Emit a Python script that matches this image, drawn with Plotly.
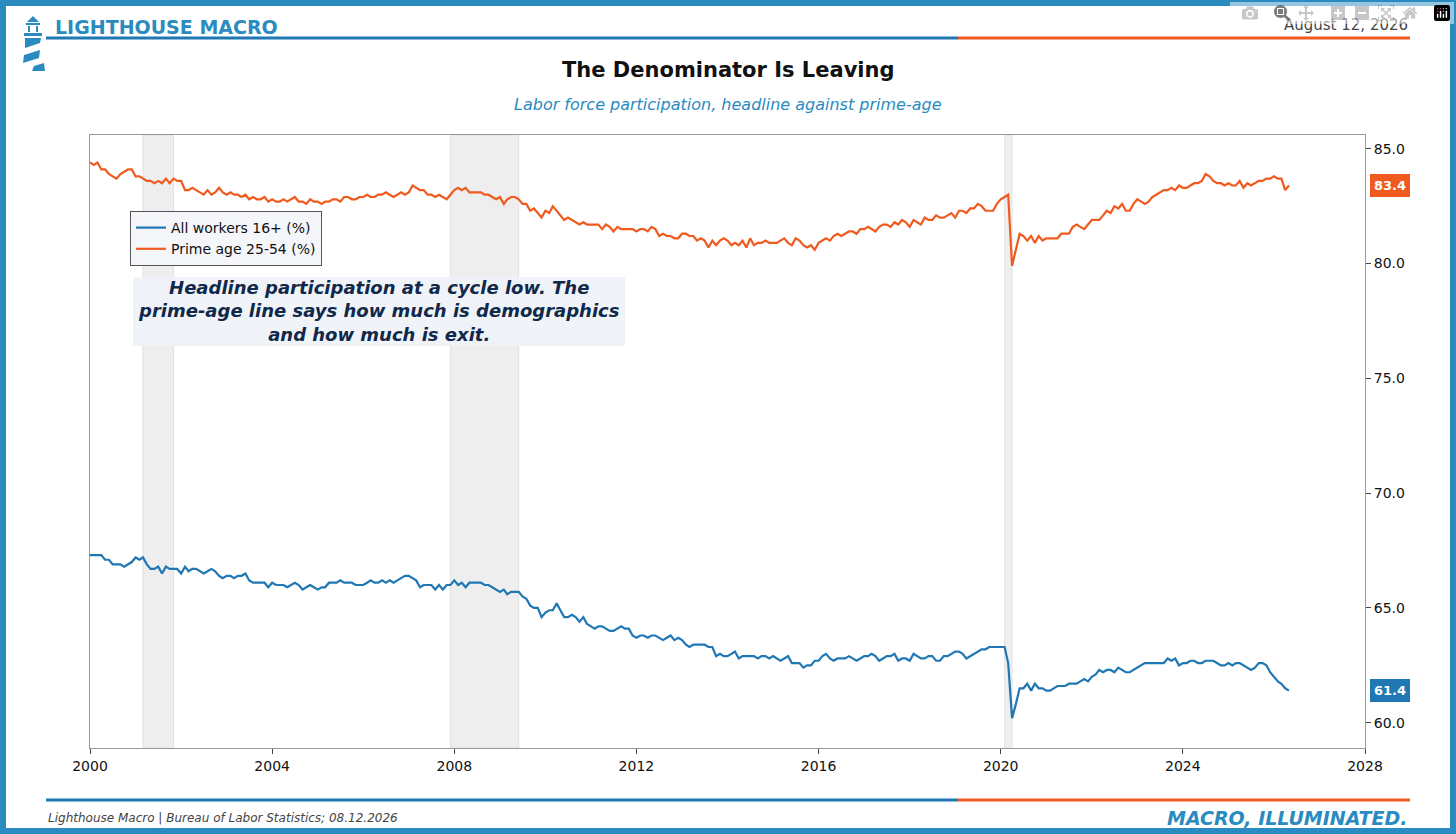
import plotly.graph_objects as go
import pandas as pd

prime = [
84.4,84.3,84.4,84.1,84.1,83.9,83.8,83.7,83.9,84.0,84.1,84.1,
83.8,83.8,83.7,83.6,83.6,83.5,83.6,83.5,83.7,83.5,83.7,83.6,
83.6,83.2,83.2,83.3,83.2,83.1,83.0,83.2,83.0,83.1,83.3,83.1,
83.0,83.1,83.0,83.0,82.9,83.0,82.8,82.9,82.8,82.8,82.9,82.7,
82.8,82.7,82.7,82.8,82.7,82.8,82.9,82.7,82.7,82.6,82.8,82.7,
82.7,82.6,82.7,82.7,82.8,82.8,82.7,82.9,82.9,82.8,82.8,82.9,
82.9,83.0,82.9,82.9,83.0,83.0,83.1,83.0,82.9,83.0,83.1,83.0,
83.1,83.4,83.3,83.2,83.2,83.0,83.0,82.9,83.0,82.9,82.8,83.0,
83.2,83.3,83.2,83.3,83.1,83.1,83.1,83.1,83.0,83.0,82.9,82.8,
82.9,82.6,82.8,82.9,82.9,82.8,82.6,82.6,82.3,82.4,82.2,82.0,
82.3,82.2,82.5,82.3,82.1,81.9,82.0,81.9,81.8,81.7,81.8,81.7,
81.7,81.7,81.7,81.5,81.7,81.6,81.4,81.6,81.5,81.5,81.5,81.5,
81.4,81.5,81.5,81.4,81.6,81.5,81.2,81.3,81.2,81.2,81.1,81.1,
81.3,81.3,81.2,81.2,81.0,81.1,81.0,80.7,81.0,80.8,81.0,81.1,
81.0,80.8,80.9,80.8,81.0,80.7,81.1,80.8,80.9,80.9,81.0,80.9,
80.9,80.9,81.0,81.1,80.9,80.8,81.1,81.0,80.8,80.7,80.8,80.6,
80.9,81.0,81.1,81.0,81.2,81.3,81.2,81.3,81.4,81.4,81.3,81.5,
81.5,81.6,81.5,81.4,81.6,81.7,81.7,81.6,81.8,81.7,81.9,81.8,
81.6,81.9,81.8,81.7,82.0,81.9,81.9,82.1,82.0,82.0,82.1,82.2,
82.0,82.3,82.3,82.2,82.4,82.4,82.6,82.5,82.3,82.3,82.3,82.6,
82.8,82.9,83.0,79.9,80.6,81.3,81.2,81.0,81.2,80.9,81.2,81.0,
81.1,81.1,81.1,81.1,81.3,81.3,81.3,81.6,81.7,81.6,81.5,81.7,
81.9,81.9,81.9,82.1,82.3,82.2,82.5,82.4,82.6,82.3,82.3,82.6,
82.8,82.7,82.6,82.7,82.9,83.0,83.1,83.2,83.2,83.3,83.2,83.4,
83.3,83.3,83.4,83.5,83.5,83.6,83.9,83.8,83.6,83.5,83.5,83.4,
83.5,83.4,83.4,83.6,83.3,83.5,83.4,83.5,83.6,83.6,83.7,83.7,
83.8,83.7,83.7,83.2,83.4]

headline = [
67.3,67.3,67.3,67.3,67.1,67.1,66.9,66.9,66.9,66.8,66.9,67.0,
67.2,67.1,67.2,66.9,66.7,66.7,66.8,66.5,66.8,66.7,66.7,66.7,
66.5,66.8,66.6,66.7,66.7,66.6,66.5,66.6,66.7,66.6,66.4,66.3,
66.4,66.4,66.3,66.4,66.4,66.5,66.2,66.1,66.1,66.1,66.1,65.9,
66.1,66.0,66.0,66.0,65.9,66.0,66.1,66.0,65.8,65.9,66.0,65.9,
65.8,65.9,65.9,66.1,66.1,66.1,66.2,66.1,66.1,66.1,66.0,66.0,
66.0,66.1,66.2,66.1,66.1,66.2,66.1,66.2,66.1,66.2,66.3,66.4,
66.4,66.3,66.2,65.9,66.0,66.0,66.0,65.8,66.0,65.8,66.0,66.0,
66.2,66.0,66.1,65.9,66.1,66.1,66.1,66.1,66.0,66.0,65.9,65.8,
65.7,65.8,65.6,65.7,65.7,65.7,65.5,65.4,65.1,65.0,65.0,64.6,
64.8,64.9,64.9,65.2,64.9,64.6,64.6,64.7,64.6,64.4,64.6,64.3,
64.2,64.1,64.2,64.2,64.1,64.0,64.0,64.1,64.2,64.1,64.1,63.8,
63.7,63.8,63.8,63.7,63.8,63.8,63.7,63.6,63.7,63.8,63.6,63.7,
63.6,63.4,63.3,63.4,63.4,63.4,63.4,63.3,63.3,62.9,63.0,62.9,
62.9,63.0,63.1,62.8,62.9,62.9,62.9,62.9,62.8,62.9,62.9,62.8,
62.9,62.8,62.7,62.8,62.9,62.6,62.6,62.6,62.4,62.5,62.5,62.7,
62.7,62.9,63.0,62.8,62.7,62.8,62.8,62.8,62.9,62.8,62.7,62.8,
62.9,62.9,63.0,62.9,62.7,62.8,62.9,62.9,63.0,62.7,62.8,62.8,
62.7,63.0,62.9,62.8,62.8,62.9,62.9,62.7,62.7,62.9,62.9,63.0,
63.1,63.1,63.0,62.8,62.9,63.0,63.1,63.2,63.2,63.3,63.3,63.3,
63.3,63.3,62.6,60.2,60.8,61.5,61.5,61.7,61.4,61.7,61.5,61.5,
61.4,61.4,61.5,61.6,61.6,61.6,61.7,61.7,61.7,61.8,61.9,61.8,
62.0,62.1,62.3,62.2,62.3,62.3,62.2,62.4,62.3,62.2,62.2,62.3,
62.4,62.5,62.6,62.6,62.6,62.6,62.6,62.6,62.8,62.7,62.8,62.5,
62.6,62.6,62.7,62.7,62.6,62.6,62.7,62.7,62.7,62.6,62.5,62.5,
62.6,62.5,62.6,62.6,62.5,62.4,62.3,62.4,62.6,62.6,62.5,62.2,
62.0,61.8,61.7,61.5,61.4]

dates = pd.date_range("2000-01-01", periods=len(prime), freq="MS")
recessions = [("2001-03-01", "2001-11-01"), ("2007-12-01", "2009-06-01"), ("2020-02-01", "2020-04-01")]
x_ticks = [f"{y}-01-01" for y in range(2000, 2029, 4)]
x_labels = [str(y) for y in range(2000, 2029, 4)]
y_ticks = [60, 65, 70, 75, 80, 85]

BLUE = "#1f77b4"
ORANGE = "#f05a1e"
FRAME = "#2a8bc0"

W, H = 1456, 834
L, R, T, B = 90, 1365, 135, 748
def px(x): return (x - L) / (R - L)
def py(y): return (B - y) / (B - T)

fig = go.Figure()
fig.add_trace(go.Scatter(x=dates, y=headline, mode="lines", name="All workers 16+ (%)",
                         line=dict(color=BLUE, width=2.2)))
fig.add_trace(go.Scatter(x=dates, y=prime, mode="lines", name="Prime age 25-54 (%)",
                         line=dict(color=ORANGE, width=2.2)))

shapes = []
for a, b in recessions:
    shapes.append(dict(type="rect", xref="x", yref="paper", x0=a, x1=b, y0=0, y1=1,
                       fillcolor="#ebebeb", opacity=0.8, line=dict(width=1, color="#dcdcdc"), layer="below"))
shapes.append(dict(type="rect", xref="paper", yref="paper", x0=px(3), x1=px(W-3), y0=py(3), y1=py(H-3),
                   line=dict(color=FRAME, width=6)))
for yy in (38, 800):
    shapes.append(dict(type="line", xref="paper", yref="paper", x0=px(46), x1=px(958), y0=py(yy), y1=py(yy),
                       line=dict(color=BLUE, width=3)))
    shapes.append(dict(type="line", xref="paper", yref="paper", x0=px(958), x1=px(1410), y0=py(yy), y1=py(yy),
                       line=dict(color=ORANGE, width=3)))
shapes.append(dict(type="rect", xref="paper", yref="paper", x0=px(133), x1=px(625), y0=py(346), y1=py(277),
                   fillcolor="#eef3f8", line=dict(width=0), opacity=0.9))
def path(pts):
    s = "M " + " L ".join(f"{px(a)},{py(b)}" for a, b in pts) + " Z"
    return dict(type="path", xref="paper", yref="paper", path=s, fillcolor=FRAME, line=dict(width=0))
shapes.append(path([(27, 22), (33, 16), (39, 22)]))
shapes.append(path([(26, 23), (40, 23), (40, 25), (26, 25)]))
shapes.append(path([(28, 26), (30, 26), (30, 32), (28, 32)]))
shapes.append(path([(36, 26), (38, 26), (38, 32), (36, 32)]))
shapes.append(path([(24, 33), (42, 33), (42, 36), (24, 36)]))
shapes.append(path([(25, 38), (41, 38), (40, 43), (25, 48)]))
shapes.append(path([(24, 55), (40, 50), (39, 58), (23, 63)]))
shapes.append(path([(34, 66), (44, 63), (45, 71), (32, 71)]))

ann = [
    dict(text="<b>LIGHTHOUSE MACRO</b>", x=px(53), y=py(27), xanchor="left", yanchor="middle",
         font=dict(size=19, color=FRAME)),
    dict(text="August 12, 2026", x=px(1410), y=py(25), xanchor="right", yanchor="middle",
         font=dict(size=15, color="#444")),
    dict(text="<b>The Denominator Is Leaving</b>", x=px(728), y=py(70), xanchor="center", yanchor="middle",
         font=dict(size=21, color="#111")),
    dict(text="<i>Labor force participation, headline against prime-age</i>", x=px(728), y=py(104),
         xanchor="center", yanchor="middle", font=dict(size=16, color=FRAME)),
    dict(text="<b><i>Headline participation at a cycle low. The<br>prime-age line says how much is demographics<br>and how much is exit.</i></b>",
         x=px(379), y=py(311), xanchor="center", yanchor="middle", font=dict(size=18, color="#10284a")),
    dict(text="<i>Lighthouse Macro | Bureau of Labor Statistics; 08.12.2026</i>", x=px(46), y=py(818),
         xanchor="left", yanchor="middle", font=dict(size=12, color="#444")),
    dict(text="<b><i>MACRO, ILLUMINATED.</i></b>", x=px(1410), y=py(818), xanchor="right", yanchor="middle",
         font=dict(size=19, color=FRAME)),
]
for a in ann:
    a.update(xref="paper", yref="paper", showarrow=False)
for val, col in ((prime[-1], ORANGE), (headline[-1], BLUE)):
    ann.append(dict(text=f"<b>{val:.1f}</b>", xref="paper", yref="y", x=px(1390), y=val, showarrow=False,
                    xanchor="center", yanchor="middle", font=dict(size=13, color="white"),
                    bgcolor=col, bordercolor=col, borderpad=3))

fig.update_layout(
    width=W, height=H, paper_bgcolor="white", plot_bgcolor="white",
    margin=dict(l=L, r=W - R, t=T, b=H - B),
    font=dict(family="DejaVu Sans", color="#111"),
    shapes=shapes, annotations=ann,
    legend=dict(x=px(130), y=py(211), xanchor="left", yanchor="top", bgcolor="#f4f6f9",
                bordercolor="#555", borderwidth=1, font=dict(size=14)),
    xaxis=dict(type="date", range=["2000-01-01", "2028-01-01"], tickvals=x_ticks, ticktext=x_labels,
               showgrid=False, showline=True, linecolor="#999", mirror=True, ticks="outside",
               tickfont=dict(size=14), zeroline=False),
    yaxis=dict(range=[58.9, 85.6], side="right", tickvals=y_ticks, ticktext=[f"{v:.1f}" for v in y_ticks],
               showgrid=False, showline=True, linecolor="#999", mirror=True, ticks="outside",
               tickfont=dict(size=14), zeroline=False),
    showlegend=True,
)
fig.write_html("out.html")
with open("out.html", encoding="utf-8") as f:
    html = f.read()
html = html.replace("<head>", "<head><style>html,body{margin:0;padding:0;overflow:hidden}</style>", 1)
with open("out.html", "w", encoding="utf-8") as f:
    f.write(html)
